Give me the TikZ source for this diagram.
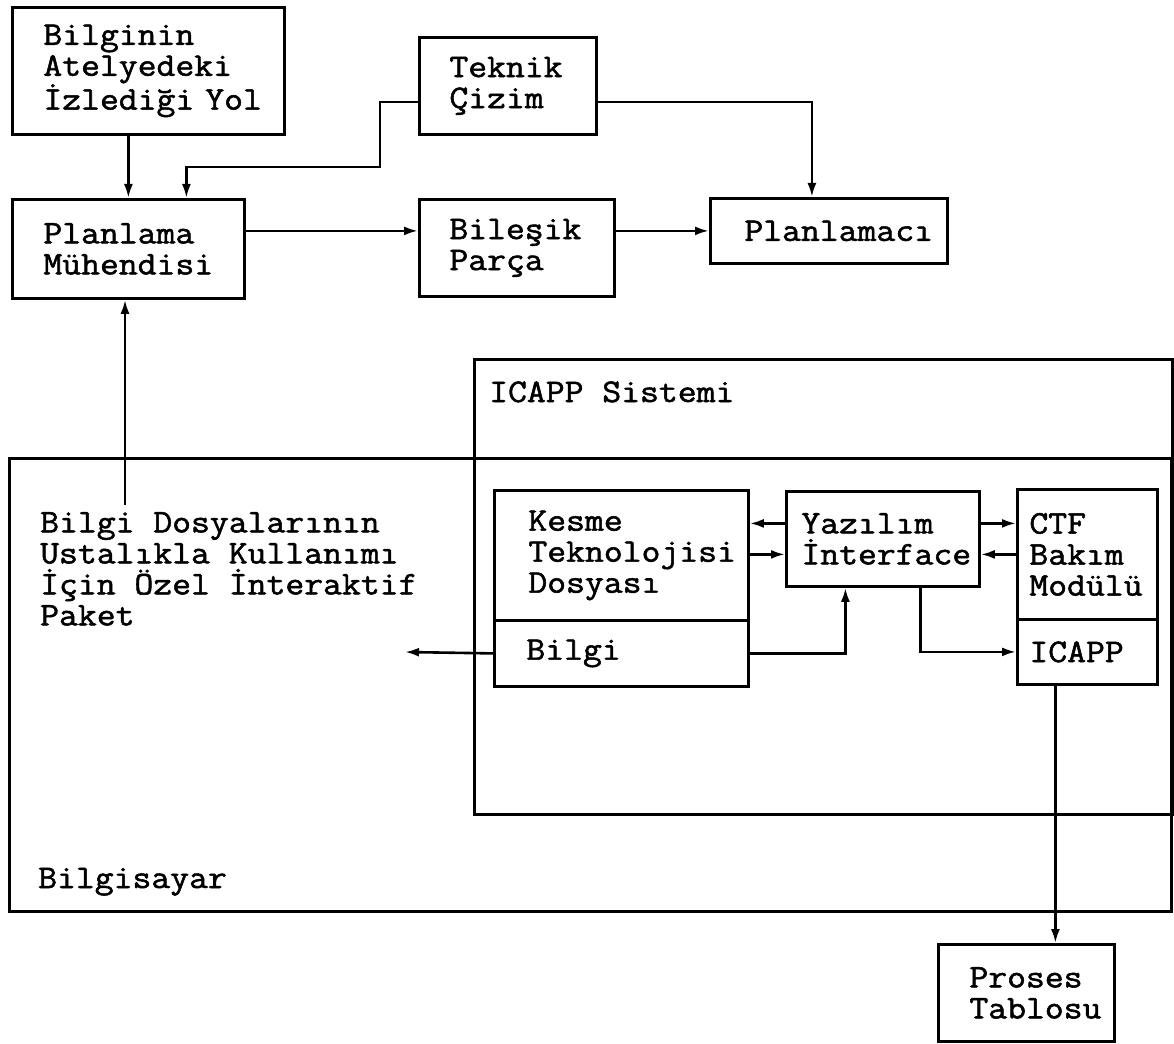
\documentclass[tikz,border=0pt]{standalone}
\usepackage{fontspec}
\setmainfont{Latin Modern Mono}[FakeStretch=1.11,FakeBold=1.6]
\usetikzlibrary{arrows.meta}
\newcommand\yazi{\fontsize{33}{31}\selectfont}

\begin{document}
\begin{tikzpicture}[x=1pt,y=-1pt,
  kutu/.style={draw,line width=2.8pt,anchor=north west,align=left,inner ysep=0pt,font=\yazi},
  cerceve/.style={draw,line width=2.8pt,anchor=north west,inner sep=0pt},
  etiket/.style={inner sep=0pt,font=\yazi,align=left},
  ok/.style={line width=2.6pt,-{Latex[length=14pt,width=9pt]}}]
  \useasboundingbox (0,0) rectangle (1174,1043);

  %% outer frames
  \node[cerceve,minimum width=1162pt,minimum height=453pt] (bilgisayar) at (8,457) {};
  \node[cerceve,minimum width=698pt,minimum height=455pt] (icappsis) at (473,358) {};
  \node[etiket,anchor=base west] (lblsis) at (489,402) {ICAPP Sistemi};
  \node[etiket,anchor=base west] (lblpc) at (38,888) {Bilgisayar};
  \node[etiket,anchor=north west] (paket) at (40,512)
    {Bilgi Dosyalarının\\Ustalıkla Kullanımı\\İçin Özel İnteraktif\\Paket};

  %% upper boxes
  \node[kutu,text width=210pt,inner xsep=31pt,minimum height=127pt] (bilginin) at (11,6)
    {Bilginin\\Atelyedeki\\İzlediği~Yol};
  \node[kutu,text width=117pt,inner xsep=30pt,minimum height=97pt] (teknik) at (418,36)
    {Teknik\\Çizim};
  \node[kutu,text width=170pt,inner xsep=31pt,minimum height=99pt] (planlama) at (11,198)
    {Planlama\\Mühendisi};
  \node[kutu,text width=135pt,inner xsep=30pt,minimum height=97pt] (bilesik) at (418,198)
    {Bileşik\\Parça};
  \node[kutu,text width=169pt,inner xsep=34pt,minimum height=65pt] (planlamaci) at (709,197)
    {Planlamacı};

  %% ICAPP boxes
  \node[kutu,text width=186pt,inner xsep=34pt,minimum height=130pt] (kesme) at (493,489)
    {Kesme\\Teknolojisi\\Dosyası};
  \node[kutu,text width=190pt,inner xsep=32pt,minimum height=66pt] (bilgi) at (493,619)
    {Bilgi};
  \node[kutu,text width=163pt,inner xsep=15pt,minimum height=95pt] (yazilim) at (785,490)
    {Yazılım\\İnterface};
  \node[kutu,text width=116pt,inner xsep=12pt,minimum height=130pt] (ctf) at (1016,488)
    {CTF\\Bakım\\Modülü};
  \node[kutu,text width=116pt,inner xsep=12pt,minimum height=65pt] (icappm) at (1016,618)
    {ICAPP};
  \node[kutu,text width=114pt,inner xsep=31pt,minimum height=97pt] (proses) at (937,943)
    {Proses\\Tablosu};

  \coordinate (pakettip) at (405,652);
  \coordinate (paketust) at (125,505);

  %% connectors
  \draw[ok] (bilginin.south -| planlama.north) -- (planlama.north);
  \draw[ok] ([yshift=-16pt]teknik.west) -| (380,167) -| ([xshift=58pt]planlama.north);
  \draw[ok] ([yshift=-16pt]teknik.east) -| ([xshift=-17pt]planlamaci.north);
  \draw[ok] (planlama.east |- planlamaci.west) -- (bilesik.west |- planlamaci.west);
  \draw[ok] (bilesik.east |- planlamaci.west) -- (planlamaci.west);
  \draw[ok] (paketust) -- (paketust |- planlama.south);

  \draw[ok] ([yshift=15.5pt]yazilim.west) -- ([yshift=15.5pt]yazilim.west -| kesme.east);
  \draw[ok] ([yshift=-15.5pt]yazilim.west -| kesme.east) -- ([yshift=-15.5pt]yazilim.west);
  \draw[ok] ([yshift=15.5pt]yazilim.east) -- ([yshift=15.5pt]yazilim.east -| ctf.west);
  \draw[ok] ([yshift=-15.5pt]yazilim.east -| ctf.west) -- ([yshift=-15.5pt]yazilim.east);
  \draw[ok] (bilgi.east) -| ([xshift=-37.5pt]yazilim.south);
  \draw[ok] ([xshift=37.5pt]yazilim.south) |- (icappm.west);
  \draw[ok] (bilgi.west) -- (pakettip);
  \draw[ok] ([xshift=-32pt]icappm.south) -- ([xshift=-32pt]icappm.south |- proses.north);
\end{tikzpicture}
\end{document}
